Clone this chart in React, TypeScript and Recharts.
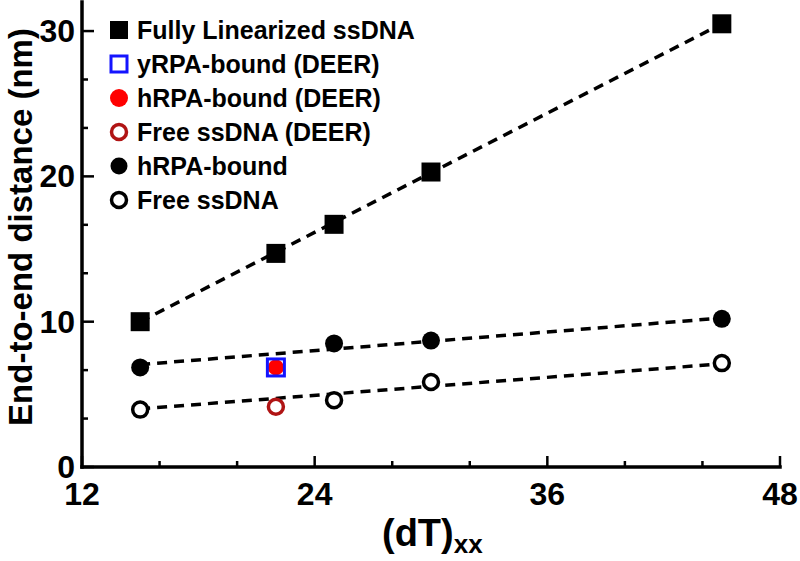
import React from "react";
import { ComposedChart, Line, Scatter, XAxis, YAxis, Legend } from "recharts";

const xTicks = [12, 16, 20, 24, 28, 32, 36, 40, 44, 48];
const xMajor = [12, 24, 36, 48];
const yTicks = [0, 10 / 3, 20 / 3, 10, 40 / 3, 50 / 3, 20, 70 / 3, 80 / 3, 30];
const yMajor = [0, 10, 20, 30];

const linearized = [
  { x: 15, y: 10.0 },
  { x: 22, y: 14.7 },
  { x: 25, y: 16.7 },
  { x: 30, y: 20.3 },
  { x: 45, y: 30.5 },
];
const yrpaDeer = [{ x: 22, y: 6.85 }];
const hrpaDeer = [{ x: 22, y: 6.85 }];
const freeDeer = [{ x: 22, y: 4.15 }];
const hrpaBound = [
  { x: 15, y: 6.85 },
  { x: 25, y: 8.5 },
  { x: 30, y: 8.7 },
  { x: 45, y: 10.2 },
];
const freeSsDNA = [
  { x: 15, y: 3.95 },
  { x: 25, y: 4.6 },
  { x: 30, y: 5.85 },
  { x: 45, y: 7.15 },
];

// dashed fit lines, end points
const fitLinearized = [{ x: 15, y: 10.0 }, { x: 45, y: 30.5 }];
const fitHrpa = [{ x: 15, y: 7.05 }, { x: 45, y: 10.25 }];
const fitFree = [{ x: 15, y: 4.0 }, { x: 45, y: 7.1 }];

const FONT = "'Liberation Sans', Arial, sans-serif";
const BLUE = "#1414ff";
const RED = "#ff0000";
const DARKRED = "#b01414";

const isMajorY = (v: number) => yMajor.some((m) => Math.abs(m - v) < 1e-6);

const BottomTick = ({ x, y, payload }: any) => {
  const major = xMajor.includes(payload.value);
  return (
    <g>
      <line x1={x} x2={x} y1={y} y2={y - (major ? 11 : 6)} stroke="#000" strokeWidth={2.5} />
      {major && (
        <text x={x} y={y + 38} textAnchor="middle" fontFamily={FONT} fontWeight="bold" fontSize={32} fill="#000">
          {payload.value}
        </text>
      )}
    </g>
  );
};

const TopTick = ({ x, y, payload }: any) => {
  const major = xMajor.includes(payload.value);
  return <line x1={x} x2={x} y1={y} y2={y + (major ? 11 : 6)} stroke="#000" strokeWidth={2.5} />;
};

const LeftTick = ({ x, y, payload }: any) => {
  const major = isMajorY(payload.value);
  return (
    <g>
      <line x1={x} x2={x + (major ? 12 : 6)} y1={y} y2={y} stroke="#000" strokeWidth={2.5} />
      {major && (
        <text x={x - 7} y={y + 11} textAnchor="end" fontFamily={FONT} fontWeight="bold" fontSize={32} fill="#000">
          {Math.round(payload.value)}
        </text>
      )}
    </g>
  );
};

const RightTick = ({ x, y, payload }: any) => {
  const major = isMajorY(payload.value);
  return <line x1={x} x2={x - (major ? 12 : 6)} y1={y} y2={y} stroke="#000" strokeWidth={2.5} />;
};

const FilledSquare = (p: any) => <rect x={p.cx - 9.5} y={p.cy - 9.5} width={19} height={19} fill="#000" />;
const BlueSquare = (p: any) => (
  <rect x={p.cx - 8.5} y={p.cy - 8.5} width={17} height={17} fill="none" stroke={BLUE} strokeWidth={3} />
);
const RedDot = (p: any) => <circle cx={p.cx} cy={p.cy} r={8} fill={RED} />;
const DarkRedRing = (p: any) => <circle cx={p.cx} cy={p.cy} r={7.5} fill="#fff" stroke={DARKRED} strokeWidth={3.5} />;
const BlackDot = (p: any) => <circle cx={p.cx} cy={p.cy} r={9} fill="#000" />;
const BlackRing = (p: any) => <circle cx={p.cx} cy={p.cy} r={7.5} fill="#fff" stroke="#000" strokeWidth={3.5} />;

const legendItems = [
  { name: "Fully Linearized ssDNA", marker: <rect x={3} y={3} width={18} height={18} fill="#000" /> },
  { name: "yRPA-bound (DEER)", marker: <rect x={4} y={4} width={16} height={16} fill="#fff" stroke={BLUE} strokeWidth={3} /> },
  { name: "hRPA-bound (DEER)", marker: <circle cx={12} cy={12} r={9} fill={RED} /> },
  { name: "Free ssDNA (DEER)", marker: <circle cx={12} cy={12} r={7.5} fill="#fff" stroke={DARKRED} strokeWidth={3.5} /> },
  { name: "hRPA-bound", marker: <circle cx={12} cy={12} r={8.5} fill="#000" /> },
  { name: "Free ssDNA", marker: <circle cx={12} cy={12} r={7.5} fill="#fff" stroke="#000" strokeWidth={3.5} /> },
];

const LegendBox = () => (
  <div style={{ position: "absolute", left: 107, top: 13 }}>
    {legendItems.map((it) => (
      <div key={it.name} style={{ display: "flex", alignItems: "center", height: 34 }}>
        <svg width={24} height={24}>{it.marker}</svg>
        <span style={{ marginLeft: 6, fontFamily: FONT, fontWeight: "bold", fontSize: 25, color: "#000", whiteSpace: "nowrap" }}>
          {it.name}
        </span>
      </div>
    ))}
  </div>
);

const axisLine = { stroke: "#000", strokeWidth: 3.5, strokeLinecap: "square" as const };

export default function App() {
  return (
    <div style={{ position: "absolute", left: 0, top: 0, width: 800, height: 561, background: "#fff" }}>
      <ComposedChart width={800} height={561} margin={{ top: 2, right: 20, left: 0, bottom: 0 }}>
        <XAxis
          xAxisId="b"
          dataKey="x"
          type="number"
          domain={[12, 48]}
          ticks={xTicks}
          interval={0}
          height={94}
          tickSize={0}
          tickMargin={0}
          tickLine={false}
          axisLine={axisLine}
          tick={<BottomTick />}
          allowDataOverflow
        />
        <XAxis
          xAxisId="t"
          orientation="top"
          dataKey="x"
          type="number"
          domain={[12, 48]}
          ticks={xTicks}
          interval={0}
          height={0}
          tickSize={0}
          tickMargin={0}
          tickLine={false}
          axisLine={axisLine}
          tick={<TopTick />}
          allowDataOverflow
        />
        <YAxis
          yAxisId="l"
          dataKey="y"
          type="number"
          domain={[0, 32]}
          ticks={yTicks}
          interval={0}
          width={82}
          tickSize={0}
          tickMargin={0}
          tickLine={false}
          axisLine={axisLine}
          tick={<LeftTick />}
          allowDataOverflow
        />
        <YAxis
          yAxisId="r"
          orientation="right"
          dataKey="y"
          type="number"
          domain={[0, 32]}
          ticks={yTicks}
          interval={0}
          width={0}
          tickSize={0}
          tickMargin={0}
          tickLine={false}
          axisLine={axisLine}
          tick={<RightTick />}
          allowDataOverflow
        />
        <Legend layout="vertical" align="center" verticalAlign="middle" wrapperStyle={{ left: 0, top: 0, width: 0, height: 0 }} content={() => <LegendBox />} />

        <Line xAxisId="b" yAxisId="l" data={fitLinearized} dataKey="y" type="linear" stroke="#000" strokeWidth={3.5} strokeDasharray="10 7" dot={false} activeDot={false} legendType="none" isAnimationActive={false} />
        <Line xAxisId="b" yAxisId="l" data={fitHrpa} dataKey="y" type="linear" stroke="#000" strokeWidth={3.5} strokeDasharray="10 7" dot={false} activeDot={false} legendType="none" isAnimationActive={false} />
        <Line xAxisId="b" yAxisId="l" data={fitFree} dataKey="y" type="linear" stroke="#000" strokeWidth={3.5} strokeDasharray="10 7" dot={false} activeDot={false} legendType="none" isAnimationActive={false} />

        <Scatter xAxisId="b" yAxisId="l" name="Fully Linearized ssDNA" data={linearized} dataKey="y" shape={FilledSquare} isAnimationActive={false} />
        <Scatter xAxisId="b" yAxisId="l" name="hRPA-bound (DEER)" data={hrpaDeer} dataKey="y" shape={RedDot} isAnimationActive={false} />
        <Scatter xAxisId="b" yAxisId="l" name="yRPA-bound (DEER)" data={yrpaDeer} dataKey="y" shape={BlueSquare} isAnimationActive={false} />
        <Scatter xAxisId="b" yAxisId="l" name="Free ssDNA (DEER)" data={freeDeer} dataKey="y" shape={DarkRedRing} isAnimationActive={false} />
        <Scatter xAxisId="b" yAxisId="l" name="hRPA-bound" data={hrpaBound} dataKey="y" shape={BlackDot} isAnimationActive={false} />
        <Scatter xAxisId="b" yAxisId="l" name="Free ssDNA" data={freeSsDNA} dataKey="y" shape={BlackRing} isAnimationActive={false} />
      </ComposedChart>
      <svg width={800} height={561} style={{ position: "absolute", left: 0, top: 0, pointerEvents: "none" }}>
        <text transform="translate(32,227) rotate(-90)" textAnchor="middle" fontFamily={FONT} fontWeight="bold" fontSize={33} fill="#000">
          End-to-end distance (nm)
        </text>
        <text x={382} y={546} fontFamily={FONT} fontWeight="bold" fontSize={38} fill="#000">
          (dT)<tspan fontSize={26} dy={7}>xx</tspan>
        </text>
      </svg>
    </div>
  );
}
